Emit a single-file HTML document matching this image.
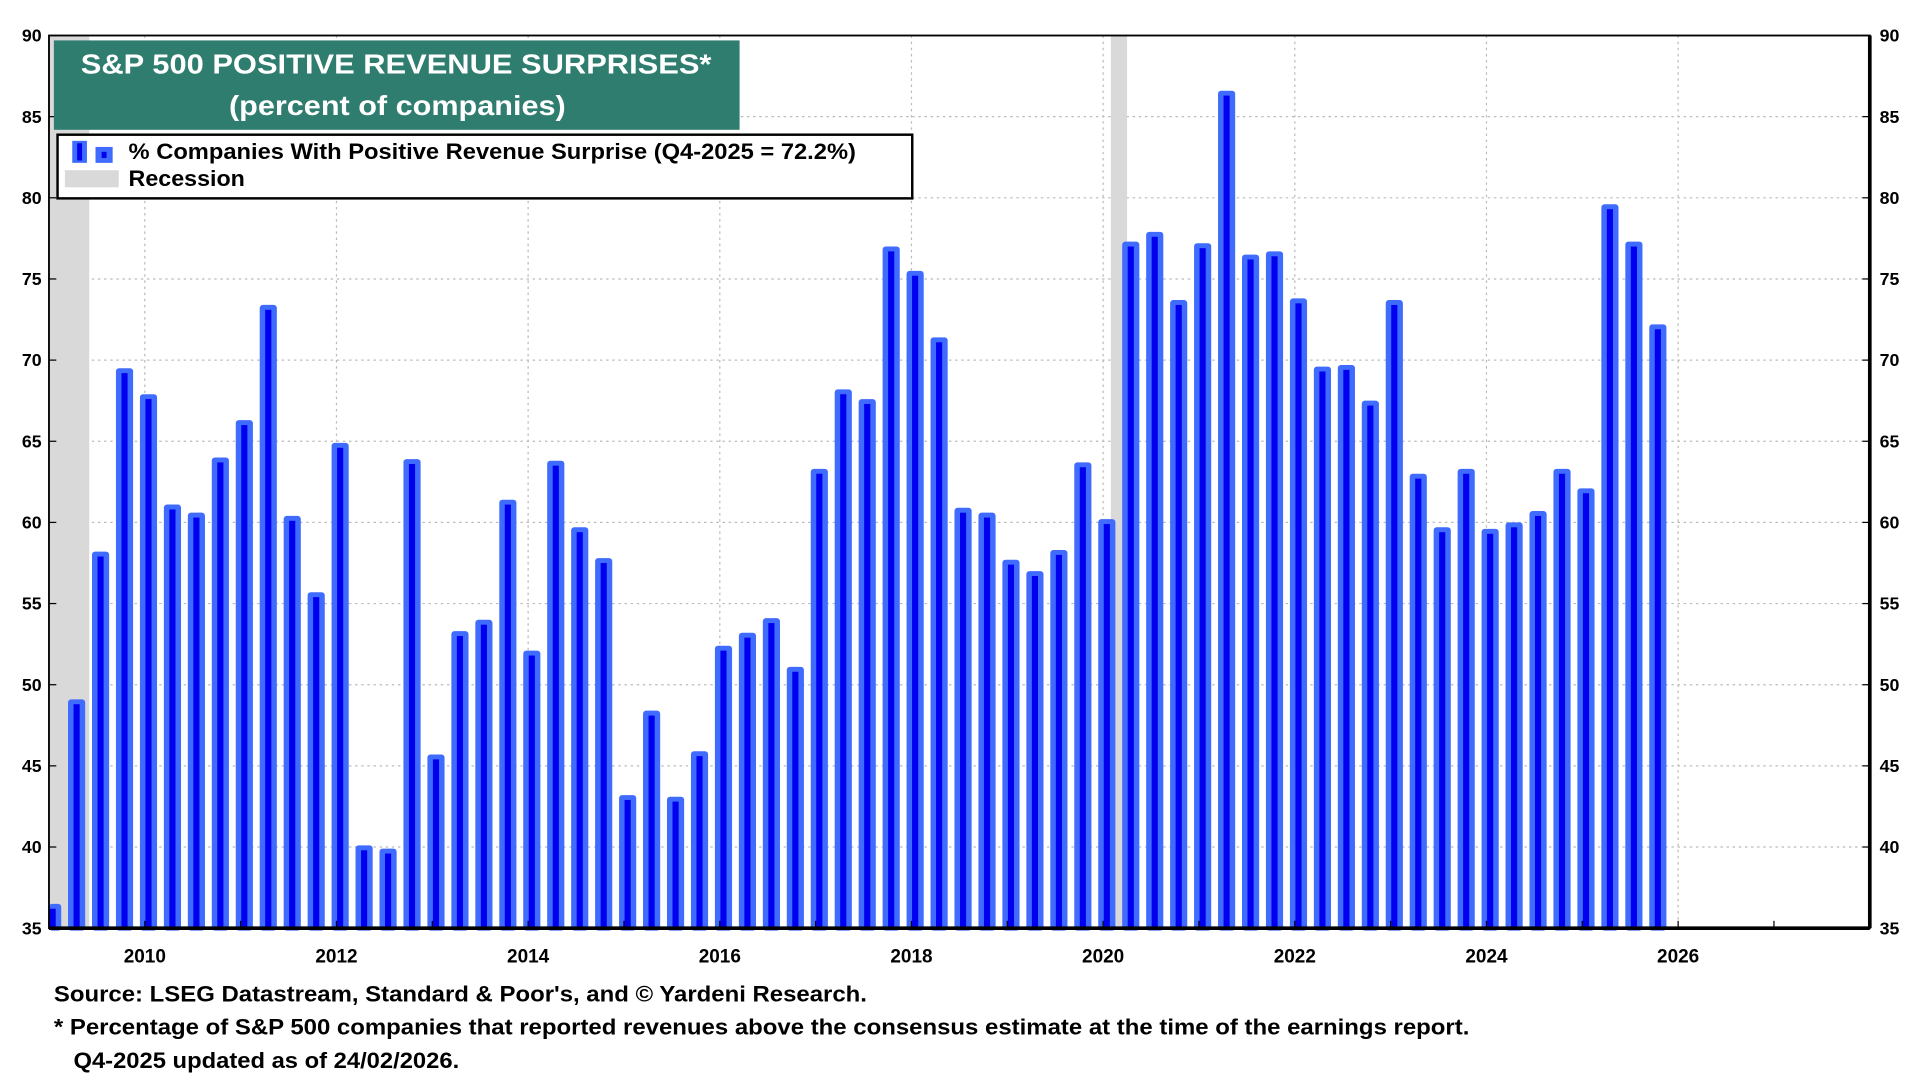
<!DOCTYPE html>
<html><head><meta charset="utf-8"><style>
html,body{margin:0;padding:0;background:#fff;}
svg{display:block;font-family:"Liberation Sans",Arial,sans-serif;}
</style></head><body>
<svg id="chart" width="1920" height="1080" viewBox="0 0 1568 882" preserveAspectRatio="none" xmlns="http://www.w3.org/2000/svg">
<g id="grid"></g>
<g id="rec"></g>
<g id="bars"></g>
<g id="axes"></g>
<rect x="44" y="33" width="560" height="73" fill="#2e7d6e"/>
<text x="66" y="60" textLength="515" lengthAdjust="spacingAndGlyphs" font-size="23" font-weight="bold" fill="#fff">S&amp;P 500 POSITIVE REVENUE SURPRISES*</text>
<text x="187" y="94" textLength="275" lengthAdjust="spacingAndGlyphs" font-size="23" font-weight="bold" fill="#fff">(percent of companies)</text>
<g>
<rect x="47" y="110" width="698" height="52" fill="#fff" stroke="#000" stroke-width="2"/>
<rect x="59" y="115" width="12" height="18" fill="#3f6bff"/><rect x="63" y="117" width="4" height="14" fill="#0000ee"/>
<rect x="78" y="120" width="14" height="13" fill="#3f6bff"/><rect x="83" y="124" width="4" height="5" fill="#0000ee"/>
<text x="105" y="130" textLength="594" lengthAdjust="spacingAndGlyphs" font-size="18" font-weight="bold">% Companies With Positive Revenue Surprise (Q4-2025 = 72.2%)</text>
<rect x="53" y="139" width="44" height="14" fill="#d9d9d9"/>
<text x="105" y="152" textLength="95" lengthAdjust="spacingAndGlyphs" font-size="18" font-weight="bold">Recession</text>
</g>
<text x="44" y="818" textLength="664" lengthAdjust="spacingAndGlyphs" font-size="18" font-weight="bold">Source: LSEG Datastream, Standard &amp; Poor's, and © Yardeni Research.</text>
<text x="44" y="845" textLength="1156" lengthAdjust="spacingAndGlyphs" font-size="18" font-weight="bold">* Percentage of S&amp;P 500 companies that reported revenues above the consensus estimate at the time of the earnings report.</text>
<text x="60" y="872" textLength="315" lengthAdjust="spacingAndGlyphs" font-size="18" font-weight="bold">Q4-2025 updated as of 24/02/2026.</text>
</svg>
<script>
const values=[36.5,49.1,58.2,69.5, 67.9,61.1,60.6,64.0, 66.3,73.4,60.4,55.7, 64.9,40.1,39.9,63.9,
45.7,53.3,54.0,61.4, 52.1,63.8,59.7,57.8, 43.2,48.4,43.1,45.9, 52.4,53.2,54.1,51.1,
63.3,68.2,67.6,77.0, 75.5,71.4,60.9,60.6, 57.7,57.0,58.3,63.7, 60.2,77.3,77.9,73.7,
77.2,86.6,76.5,76.7, 73.8,69.6,69.7,67.5, 73.7,63.0,59.7,63.3, 59.6,60.0,60.7,63.3,
62.1,79.6,77.3,72.2];
const startYear=2009;
const yTicks=[35,40,45,50,55,60,65,70,75,80,85,90];
const xTicks=[2010,2012,2014,2016,2018,2020,2022,2024,2026];
const recessions=[[2009.0,2009.42],[2020.08,2020.25]];
const L=40,R=1527,T=29,B=758,X0=2009,X1=2028,Y0=35,Y1=90;
const NS="http://www.w3.org/2000/svg";
const xs=v=>L+(v-X0)/(X1-X0)*(R-L);
const ys=v=>B-(v-Y0)/(Y1-Y0)*(B-T);
function mk(tag,at,parent){const e=document.createElementNS(NS,tag);for(const k in at)e.setAttribute(k,at[k]);document.getElementById(parent).appendChild(e);return e;}
yTicks.forEach(t=>{
 const g=mk('line',{x1:L,x2:R,y1:ys(t),y2:ys(t),stroke:'#bbb','stroke-dasharray':'2,3'},'grid');
 
 
 const a=mk('text',{x:L-6,y:ys(t)+5,'text-anchor':'end','font-size':14.5,'font-weight':'bold'},'axes');a.textContent=t;
 
 
 const b=mk('text',{x:R+8,y:ys(t)+5,'font-size':14.5,'font-weight':'bold'},'axes');b.textContent=t;
 
 
 mk('line',{x1:L,x2:L+6,y1:ys(t),y2:ys(t),stroke:'#000'},'axes');
 mk('line',{x1:R-6,x2:R,y1:ys(t),y2:ys(t),stroke:'#000'},'axes');
});
xTicks.forEach(t=>{
 const g=mk('line',{x1:xs(t),x2:xs(t),y1:T,y2:B,stroke:'#bbb','stroke-dasharray':'2,3'},'grid');
 
 
 const a=mk('text',{x:xs(t),y:B+28,'text-anchor':'middle','font-size':15.5,'font-weight':'bold'},'axes');a.textContent=t;
 
 
});
for(let y=X0;y<=X1;y++)mk('line',{x1:xs(y),x2:xs(y),y1:B,y2:B-6,stroke:'#000'},'axes');
recessions.forEach(r=>{
 const e=mk('rect',{x:xs(r[0]),y:T,width:xs(r[1])-xs(r[0]),height:B-T,fill:'#d9d9d9'},'rec');
 
 
});
const bw=14;
values.forEach((v,i)=>{
 const cx=xs(startYear+i*0.25)+3;
 const x=Math.max(L,cx-bw/2);const w=cx+bw/2-x;
 const b=mk('rect',{x:x,y:ys(v),width:w,height:B-ys(v)+2,rx:2.5,fill:'#3f6bff'},'bars');
 
 
 const c=mk('rect',{x:Math.max(L,cx-2.5),y:ys(v)+4,width:Math.min(5,cx+2.5-L),height:Math.max(0,B-ys(v)-4),fill:'#0000ee'},'bars');
 
 
});
mk('rect',{x:L,y:T,width:R-L,height:B-T,fill:'none',stroke:'#000','stroke-width':1.5},'axes');
mk('line',{x1:L,x2:R,y1:B,y2:B,stroke:'#000','stroke-width':3},'axes');
mk('line',{x1:R,x2:R,y1:T,y2:B,stroke:'#000','stroke-width':3},'axes');
</script>
</body></html>
